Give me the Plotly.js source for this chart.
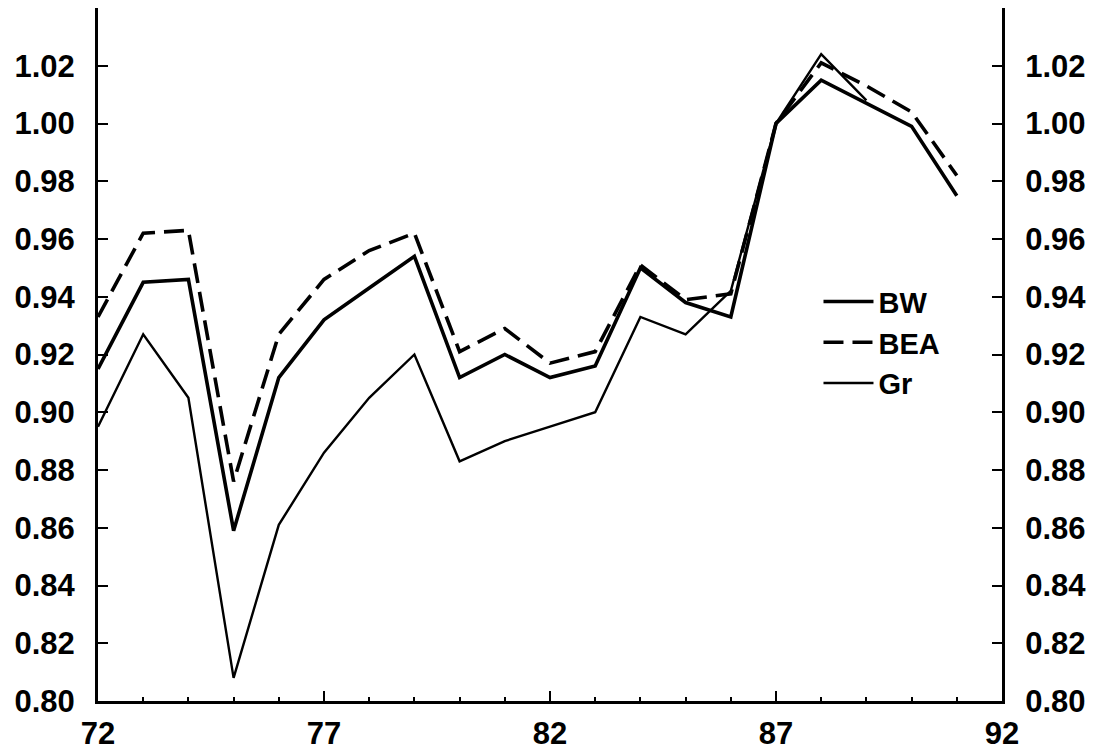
<!DOCTYPE html>
<html>
<head>
<meta charset="utf-8">
<script src="https://cdn.plot.ly/plotly-3.0.1.min.js"></script>
<style>html,body{margin:0;padding:0;background:#fff;}#chart{width:1096px;height:750px;}</style>
</head>
<body>
<div id="chart"></div>
<script>
const years = [72,73,74,75,76,77,78,79,80,81,82,83,84,85,86,87,88,89,90,91];
const bw  = [0.915,0.945,0.946,0.859,0.912,0.932,0.943,0.954,0.912,0.920,0.912,0.916,0.950,0.938,0.933,1.000,1.015,1.007,0.999,0.975];
const bea = [0.933,0.962,0.963,0.876,0.927,0.946,0.956,0.962,0.921,0.929,0.917,0.921,0.951,0.939,0.941,1.000,1.021,1.013,1.004,0.982];
const grYears = [72,73,74,75,76,77,78,79,80,81,82,83,84,85,86,87,88,89];
const gr  = [0.895,0.927,0.905,0.808,0.861,0.886,0.905,0.920,0.883,0.890,0.895,0.900,0.933,0.927,0.942,1.000,1.024,1.008];
const xTicks = [72,77,82,87,92];
const yTicks = [0.80,0.82,0.84,0.86,0.88,0.90,0.92,0.94,0.96,0.98,1.00,1.02];
const yTickText = yTicks.map(v => v.toFixed(2));

const fontFam = '"Liberation Sans", Arial, sans-serif';
const traces = [
  {x: years, y: bw, name: 'BW', mode: 'lines', line: {color: '#000', width: 3.6}},
  {x: years, y: bea, name: 'BEA', mode: 'lines', line: {color: '#000', width: 3.6, dash: '20px,9px'}},
  {x: grYears, y: gr, name: 'Gr', mode: 'lines', line: {color: '#000', width: 2.4}},
  {x: [72, 92], y: [null, null], yaxis: 'y2', showlegend: false, hoverinfo: 'skip', mode: 'lines'}
];
const yCommon = {
  range: [0.80, 1.04], tickvals: yTicks, ticktext: yTickText,
  ticks: 'inside', ticklen: 10, tickwidth: 2, tickcolor: '#000',
  showline: true, linewidth: 3, linecolor: '#000', showgrid: false, zeroline: false,
  tickfont: {family: fontFam, size: 31, color: '#000', weight: 'bold'},
  ticklabelstandoff: 14
};
const layout = {
  width: 1096, height: 750,
  margin: {l: 98, r: 94, t: 8, b: 49},
  paper_bgcolor: '#fff', plot_bgcolor: '#fff',
  showlegend: true,
  legend: {x: 0.797, xanchor: 'left', y: 0.613, yanchor: 'top', bgcolor: 'rgba(0,0,0,0)',
           font: {family: fontFam, size: 29, color: '#000', weight: 'bold'}, itemwidth: 50},
  xaxis: {
    range: [72, 92], tickvals: xTicks, ticktext: xTicks.map(String),
    ticks: 'inside', ticklen: 10, tickwidth: 2, tickcolor: '#000',
    minor: {dtick: 1, tick0: 72, ticks: 'inside', ticklen: 4, tickwidth: 2, tickcolor: '#000'},
    showline: true, linewidth: 3, linecolor: '#000', showgrid: false, zeroline: false,
    tickfont: {family: fontFam, size: 31, color: '#000', weight: 'bold'},
    ticklabelstandoff: 3
  },
  yaxis: Object.assign({side: 'left'}, yCommon),
  yaxis2: Object.assign({side: 'right', overlaying: 'y'}, yCommon)
};
Plotly.newPlot('chart', traces, layout, {staticPlot: true});
</script>
</body>
</html>
